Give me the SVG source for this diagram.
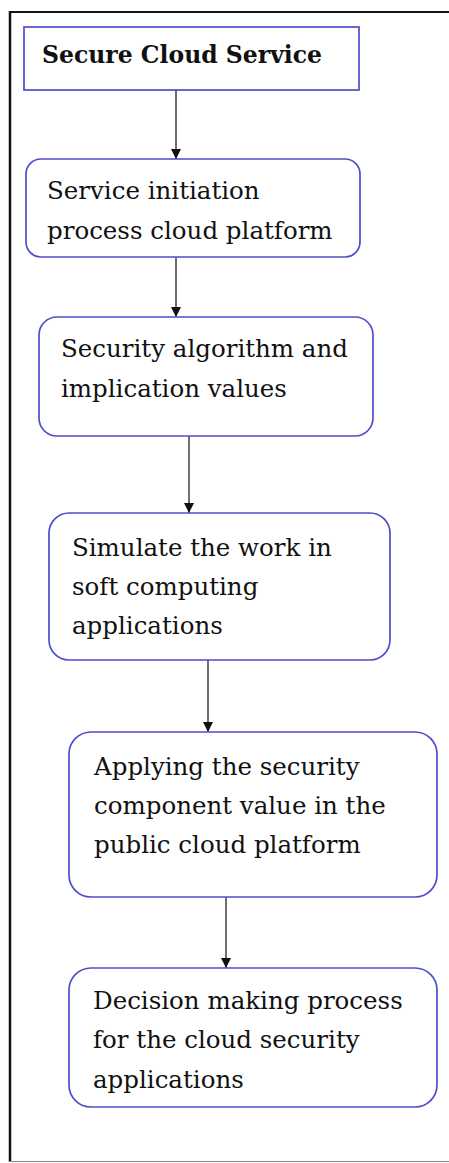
<svg xmlns="http://www.w3.org/2000/svg" width="449" height="1163" viewBox="0 0 449 1163">
  <style>
    .box { fill: #ffffff; stroke: #4e4ecc; stroke-width: 1.7; }
    .label { font-family: "DejaVu Serif", "Liberation Serif", serif; font-size: 24.5px; fill: #111111; }
    .title { font-family: "DejaVu Serif", "Liberation Serif", serif; font-size: 23.5px; font-weight: bold; fill: #111111; }
    .link { stroke: #222222; stroke-width: 1.3; fill: none; marker-end: url(#arrow); }
  </style>
  <defs>
    <marker id="arrow" viewBox="0 0 10 10" refX="10" refY="5" markerWidth="11" markerHeight="10" markerUnits="userSpaceOnUse" orient="auto">
      <path d="M0,0 L10,5 L0,10 z" fill="#111111"/>
    </marker>
  </defs>

  <rect width="449" height="1163" fill="#ffffff"/>

  <!-- outer frame -->
  <g id="frame">
    <line x1="9" y1="12" x2="449" y2="12" stroke="#111111" stroke-width="2"/>
    <line x1="10" y1="11" x2="10" y2="1162" stroke="#111111" stroke-width="2.5"/>
    <line x1="9" y1="1161.5" x2="449" y2="1161.5" stroke="#888888" stroke-width="1.2"/>
  </g>

  <g id="connectors">
    <line class="link" x1="176" y1="90" x2="176" y2="159"/>
    <line class="link" x1="176" y1="257" x2="176" y2="317"/>
    <line class="link" x1="189" y1="436" x2="189" y2="513"/>
    <line class="link" x1="208" y1="660" x2="208" y2="732"/>
    <line class="link" x1="226" y1="897" x2="226" y2="968"/>
  </g>

  <g id="secure-cloud-service">
    <rect class="box" x="24" y="27" width="335" height="63"/>
    <text class="title" x="42" y="63">Secure Cloud Service</text>
  </g>

  <g id="service-initiation">
    <rect class="box" x="26" y="159" width="334" height="98" rx="15"/>
    <text class="label" x="47" y="199">Service initiation</text>
    <text class="label" x="47" y="239">process cloud platform</text>
  </g>

  <g id="security-algorithm">
    <rect class="box" x="39" y="317" width="334" height="119" rx="18"/>
    <text class="label" x="61" y="357">Security algorithm and</text>
    <text class="label" x="61" y="397">implication values</text>
  </g>

  <g id="simulate-work">
    <rect class="box" x="49" y="513" width="341" height="147" rx="20"/>
    <text class="label" x="72" y="556">Simulate the work in</text>
    <text class="label" x="72" y="595">soft computing</text>
    <text class="label" x="72" y="634">applications</text>
  </g>

  <g id="apply-security-component">
    <rect class="box" x="69" y="732" width="368" height="165" rx="22"/>
    <text class="label" x="94" y="775">Applying the security</text>
    <text class="label" x="94" y="814">component value in the</text>
    <text class="label" x="94" y="853">public cloud platform</text>
  </g>

  <g id="decision-making">
    <rect class="box" x="69" y="968" width="368" height="139" rx="22"/>
    <text class="label" x="93" y="1009">Decision making process</text>
    <text class="label" x="93" y="1048">for the cloud security</text>
    <text class="label" x="93" y="1088">applications</text>
  </g>
</svg>
